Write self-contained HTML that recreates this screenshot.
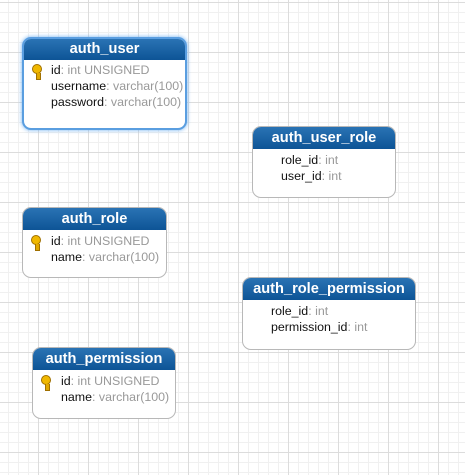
<!DOCTYPE html>
<html><head><style>
body{margin:0;width:465px;height:475px;overflow:hidden;font-family:"Liberation Sans",Arial,sans-serif;
background-color:#fff;
background-image:linear-gradient(#dcdcdc 1px,transparent 1px),linear-gradient(90deg,#dcdcdc 1px,transparent 1px),linear-gradient(#f0f0f0 1px,transparent 1px),linear-gradient(90deg,#f0f0f0 1px,transparent 1px);
background-size:50px 50px,50px 50px,10px 10px,10px 10px;
background-position:0 2px,38px 0,0 2px,8px 0;}
.t{position:absolute;background:#fff;border:1px solid #b8b8b8;border-radius:9px;box-sizing:border-box;overflow:hidden}
.h{height:22px;background:linear-gradient(#2a73b4,#0d5496);color:#fff;font-weight:bold;font-size:14.6px;text-align:center;line-height:22px}
.r{font-size:12.4px;color:#111;height:16px;line-height:16px;padding-left:28px;position:relative;white-space:nowrap}
.r span{color:#999}
.k{position:absolute;left:8px;top:2px;width:8px;height:8px;border-radius:50%;background:#f0b800;border:1px solid #a07000}
.k:after{content:"";position:absolute;left:3px;top:8px;width:3px;height:6px;background:#e0a800;border:1px solid #a07000;border-top:none}
.sel{border:2px solid #5a9ee0;box-shadow:0 0 4px #6aaef0}
.sel .r{padding-left:27px}
.sp{height:3px}
</style></head><body>
<div class="t sel" style="left:22px;top:37px;width:165px;height:93px"><div class="h" style="height:21px;line-height:21px">auth_user</div>
<div style="height:2px"></div>
<div class="r"><i class="k"></i>id<span>: int UNSIGNED</span></div>
<div class="r">username<span>: varchar(100)</span></div>
<div class="r">password<span>: varchar(100)</span></div></div>

<div class="t" style="left:252px;top:126px;width:144px;height:72px"><div class="h">auth_user_role</div>
<div class="sp"></div>
<div class="r">role_id<span>: int</span></div>
<div class="r">user_id<span>: int</span></div></div>

<div class="t" style="left:22px;top:207px;width:145px;height:71px"><div class="h">auth_role</div>
<div class="sp"></div>
<div class="r"><i class="k"></i>id<span>: int UNSIGNED</span></div>
<div class="r">name<span>: varchar(100)</span></div></div>

<div class="t" style="left:242px;top:277px;width:174px;height:73px"><div class="h">auth_role_permission</div>
<div class="sp"></div>
<div class="r">role_id<span>: int</span></div>
<div class="r">permission_id<span>: int</span></div></div>

<div class="t" style="left:32px;top:347px;width:144px;height:72px"><div class="h">auth_permission</div>
<div class="sp"></div>
<div class="r"><i class="k"></i>id<span>: int UNSIGNED</span></div>
<div class="r">name<span>: varchar(100)</span></div></div>
</body></html>
